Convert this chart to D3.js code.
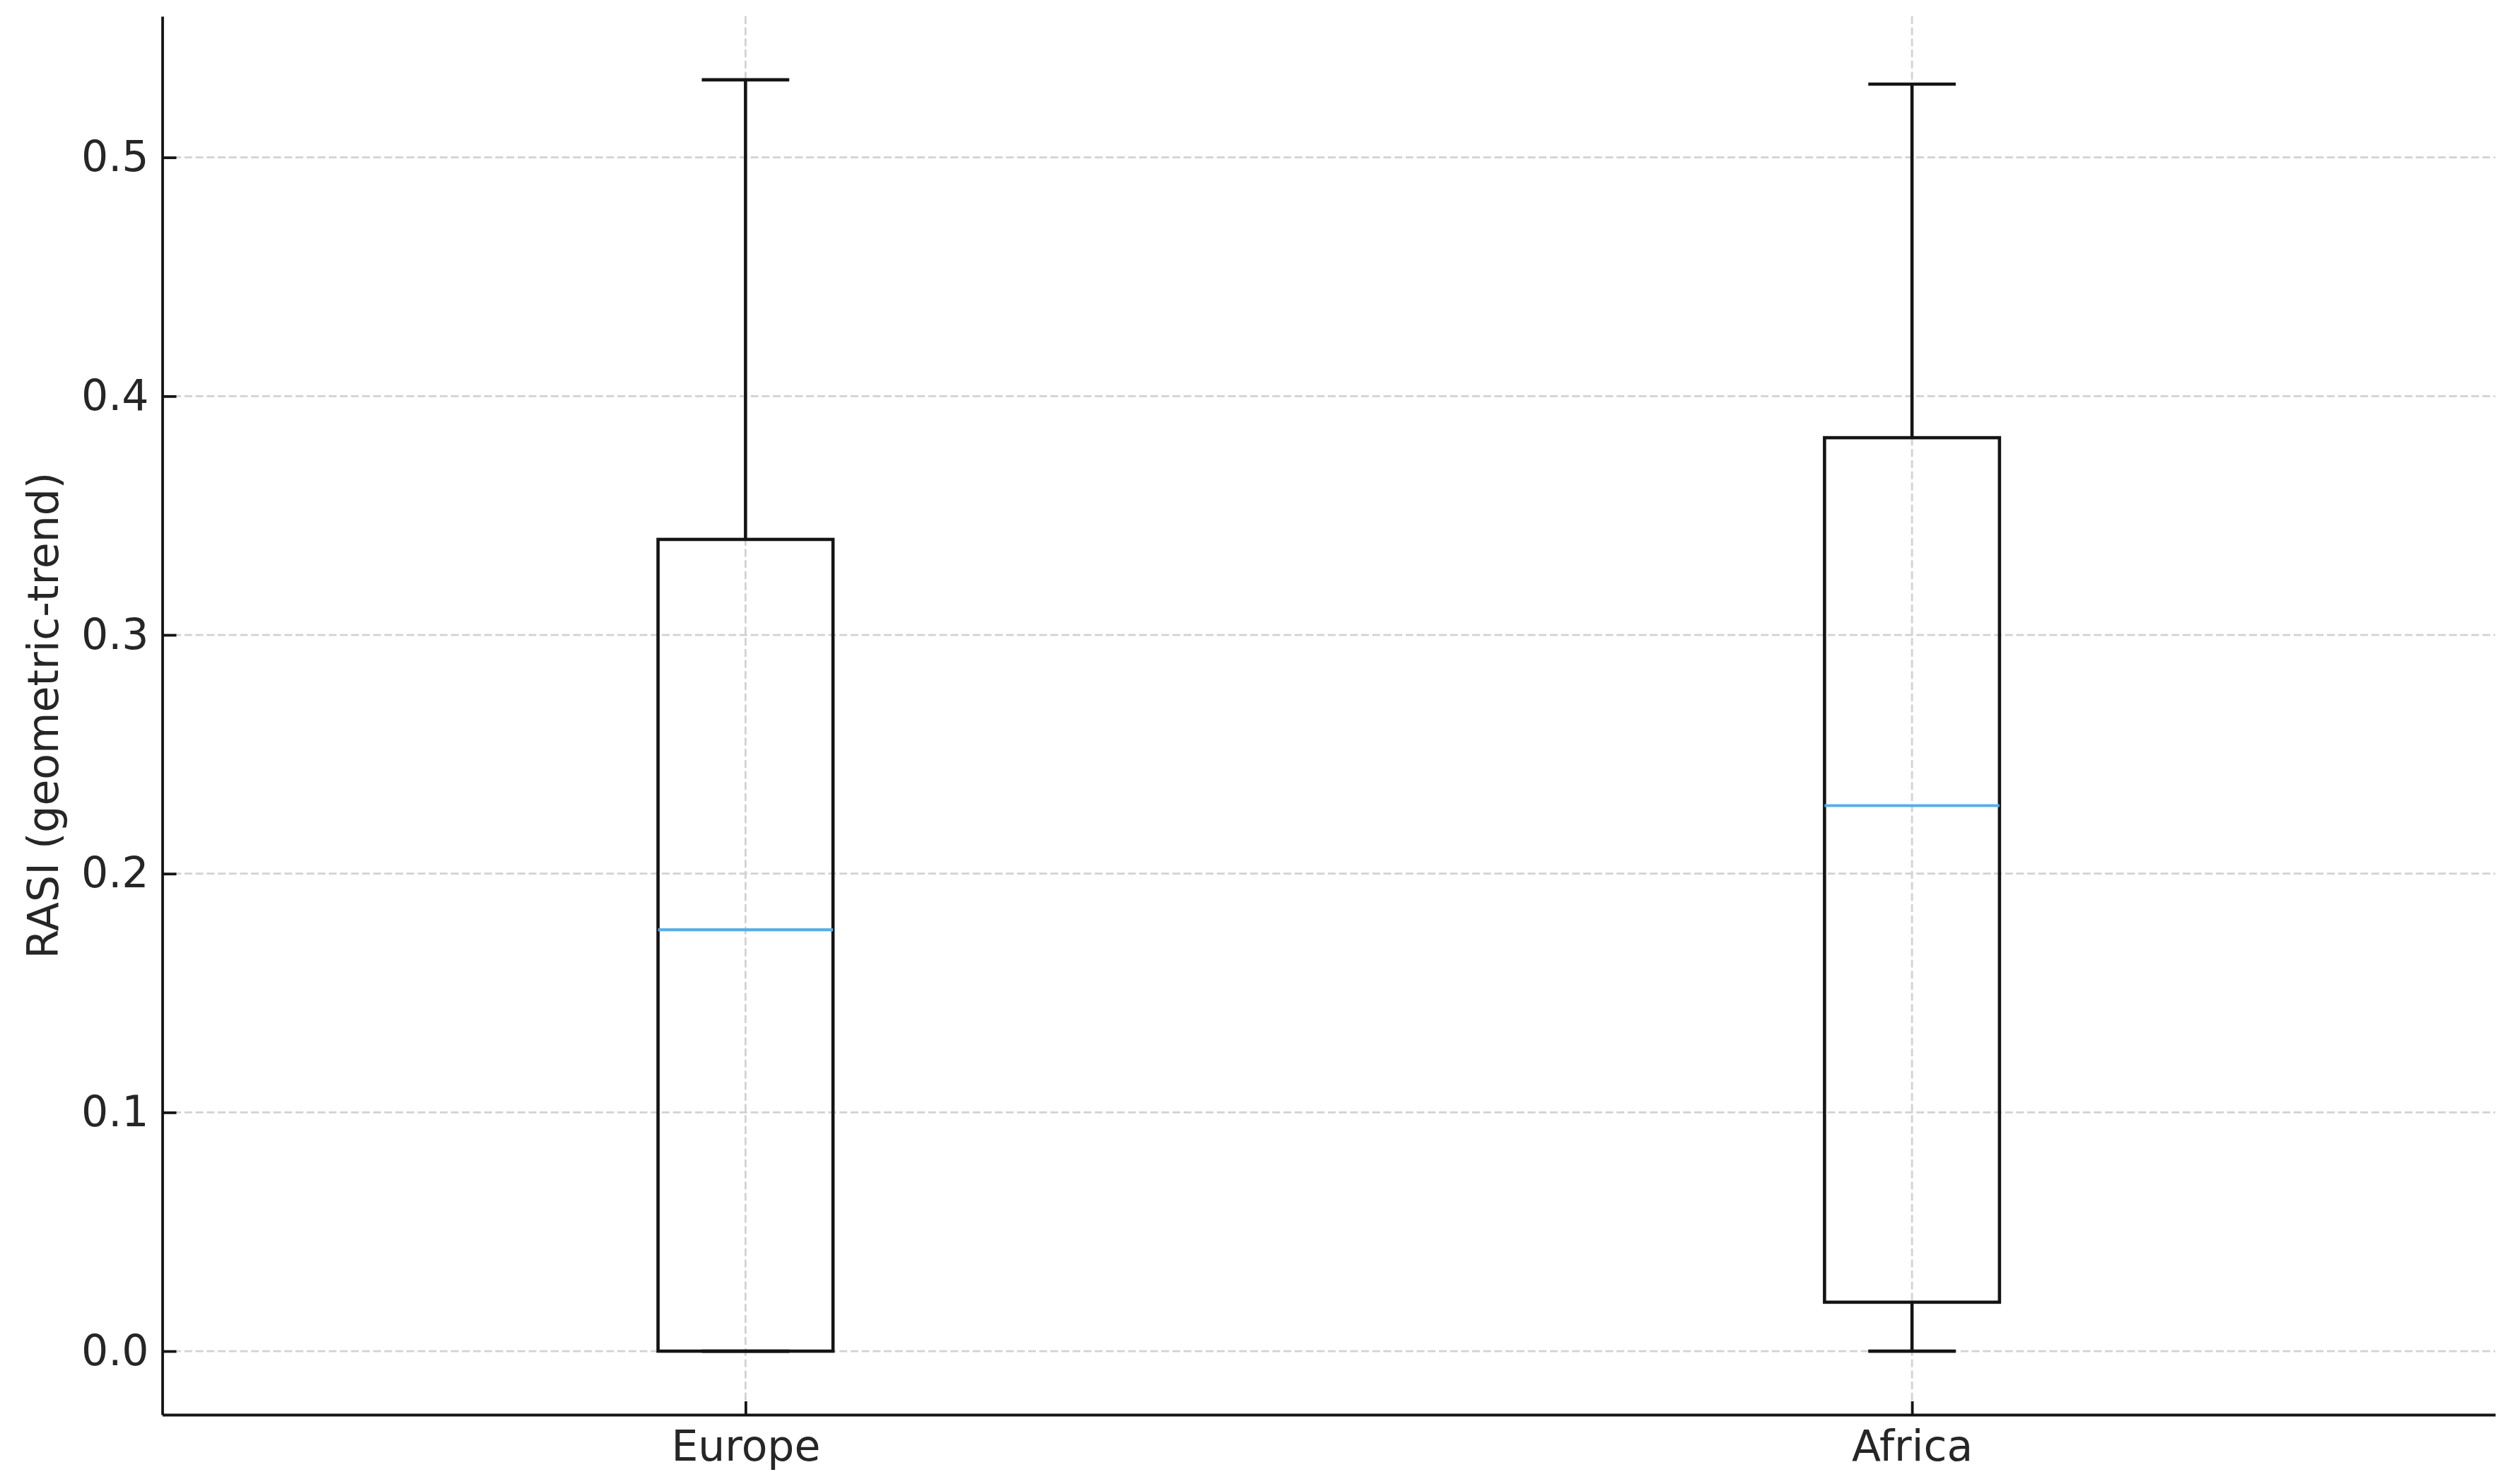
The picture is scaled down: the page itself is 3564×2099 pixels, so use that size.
<!DOCTYPE html>
<html>
<head>
<meta charset="utf-8">
<script src="https://cdn.jsdelivr.net/npm/d3@7/dist/d3.min.js"></script>
<style>
  html, body { margin: 0; padding: 0; background: #fff; }
  svg { display: block; }
</style>
</head>
<body>
<div id="chart"></div>
<script>
// data
var categories = ["Europe", "Africa"];
var whiskerLow = [0.0, 0.0];
var q1 = [0.0, 0.0205];
var median = [0.1765, 0.2285];
var q3 = [0.340, 0.3826];
var whiskerHigh = [0.5325, 0.5307];
var yTicks = [0.0, 0.1, 0.2, 0.3, 0.4, 0.5];
var yLabel = "RASI (geometric-trend)";

var width = 3564,
  height = 2099;
var margin = {top: 23, right: 35, bottom: 98, left: 229.5};

var svg = d3.select("#chart")
  .append("svg")
  .attr("width", width)
  .attr("height", height)
  .style("background", "#fff");

var data = categories.map(function (c, i) {
  return {cat: c, lo: whiskerLow[i], q1: q1[i], med: median[i], q3: q3[i], hi: whiskerHigh[i]};
});

// ranges, matplotlib style 5% padding on y
var ymin = d3.min(whiskerLow), ymax = d3.max(whiskerHigh);
var pad = (ymax - ymin) * 0.05;
var y = d3.scaleLinear()
  .domain([ymin - pad, ymax + pad])
  .range([height - margin.bottom, margin.top]);

var x = d3.scalePoint()
  .domain(categories)
  .range([margin.left, width - margin.right])
  .padding(0.5);

var boxW = x.step() * 0.15;
var capW = boxW / 2;

var textColor = "#262626";
var lineColor = "#141414";
var gridColor = "#d2d2d2";
var lw = 4.6;

// grid lines
var grid = svg.append("g");
grid.selectAll(".hgrid")
  .data(yTicks)
  .enter().append("line")
  .attr("x1", margin.left)
  .attr("x2", width - margin.right)
  .attr("y1", function (d) { return y(d); })
  .attr("y2", function (d) { return y(d); })
  .attr("stroke", gridColor)
  .attr("stroke-width", 2.8)
  .attr("stroke-dasharray", "11,4.7");

grid.selectAll(".vgrid")
  .data(categories)
  .enter().append("line")
  .attr("x1", function (d) { return x(d); })
  .attr("x2", function (d) { return x(d); })
  .attr("y1", margin.top)
  .attr("y2", height - margin.bottom)
  .attr("stroke", gridColor)
  .attr("stroke-width", 2.8)
  .attr("stroke-dasharray", "11,4.7");

// boxes
var boxes = svg.selectAll(".box")
  .data(data)
  .enter().append("g")
  .attr("class", "box");

// whiskers
boxes.append("line")
  .attr("x1", function (d) { return x(d.cat); })
  .attr("x2", function (d) { return x(d.cat); })
  .attr("y1", function (d) { return y(d.q3); })
  .attr("y2", function (d) { return y(d.hi); })
  .attr("stroke", lineColor)
  .attr("stroke-width", lw);

boxes.append("line")
  .attr("x1", function (d) { return x(d.cat); })
  .attr("x2", function (d) { return x(d.cat); })
  .attr("y1", function (d) { return y(d.q1); })
  .attr("y2", function (d) { return y(d.lo); })
  .attr("stroke", lineColor)
  .attr("stroke-width", lw);

// caps
["hi", "lo"].forEach(function (k) {
  boxes.append("line")
    .attr("x1", function (d) { return x(d.cat) - capW / 2; })
    .attr("x2", function (d) { return x(d.cat) + capW / 2; })
    .attr("y1", function (d) { return y(d[k]); })
    .attr("y2", function (d) { return y(d[k]); })
    .attr("stroke", lineColor)
    .attr("stroke-width", lw);
});

// box body, no fill so the grid shows through
boxes.append("rect")
  .attr("x", function (d) { return x(d.cat) - boxW / 2; })
  .attr("width", boxW)
  .attr("y", function (d) { return y(d.q3); })
  .attr("height", function (d) { return y(d.q1) - y(d.q3); })
  .attr("fill", "none")
  .attr("stroke", lineColor)
  .attr("stroke-width", lw);

// median
boxes.append("line")
  .attr("x1", function (d) { return x(d.cat) - boxW / 2; })
  .attr("x2", function (d) { return x(d.cat) + boxW / 2; })
  .attr("y1", function (d) { return y(d.med); })
  .attr("y2", function (d) { return y(d.med); })
  .attr("stroke", "#58aee6")
  .attr("stroke-width", 4.2);

// axes, ticks pointing inward
var yAxis = svg.append("g")
  .attr("transform", "translate(" + margin.left + ",0)")
  .call(d3.axisLeft(y)
    .tickValues(yTicks)
    .tickFormat(d3.format(".1f"))
    .tickSizeInner(-20)
    .tickSizeOuter(0)
    .tickPadding(19));

var xAxis = svg.append("g")
  .attr("transform", "translate(0," + (height - margin.bottom) + ")")
  .call(d3.axisBottom(x)
    .tickSizeInner(-19)
    .tickSizeOuter(0)
    .tickPadding(22));

[yAxis, xAxis].forEach(function (a) {
  a.select(".domain")
    .attr("stroke", lineColor)
    .attr("stroke-width", 3.8);
  a.selectAll(".tick line")
    .attr("stroke", lineColor)
    .attr("stroke-width", 3.8);
  a.selectAll(".tick text")
    .attr("fill", textColor)
    .style("font-family", "DejaVu Sans")
    .style("font-size", "60px");
});

// y axis label
svg.append("text")
  .attr("transform", "translate(82," + ((margin.top + height - margin.bottom) / 2) + ") rotate(-90)")
  .attr("text-anchor", "middle")
  .style("font-family", "DejaVu Sans")
  .style("font-size", "60px")
  .attr("fill", textColor)
  .text(yLabel);
</script>
</body>
</html>
